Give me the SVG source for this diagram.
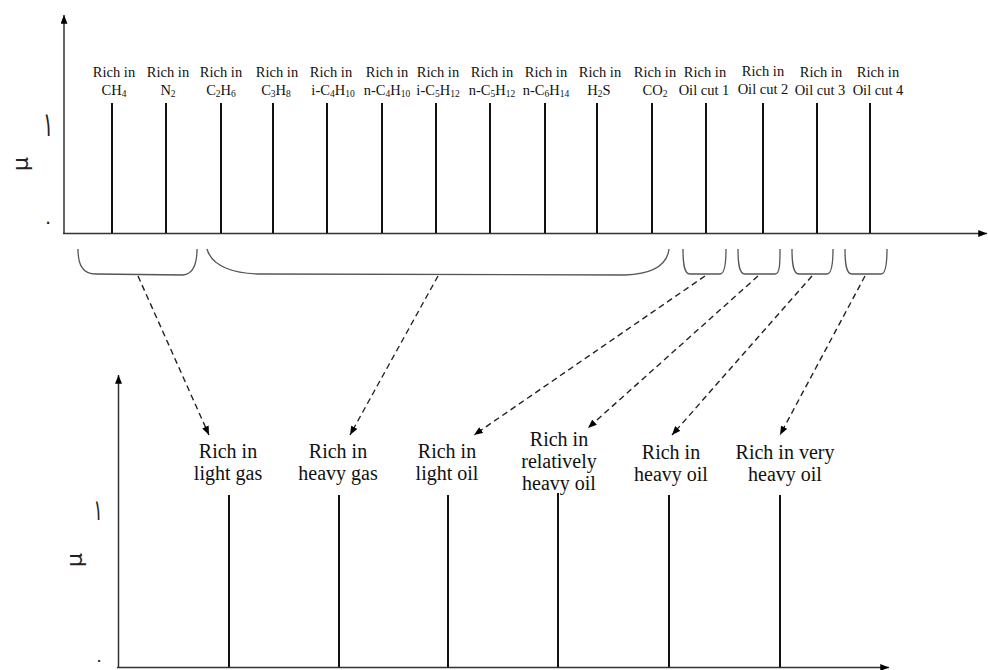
<svg xmlns="http://www.w3.org/2000/svg" width="988" height="670" viewBox="0 0 988 670">
<defs>
<marker id="ah" viewBox="0 0 10 8" refX="10" refY="4" markerWidth="9" markerHeight="7" markerUnits="userSpaceOnUse" orient="auto">
<path d="M0,0 L10,4 L0,8 z" fill="#000"/>
</marker>
<marker id="axh" viewBox="0 0 10 8" refX="10" refY="4" markerWidth="9" markerHeight="7" markerUnits="userSpaceOnUse" orient="auto">
<path d="M0,0 L10,4 L0,8 z" fill="#000"/>
</marker>
</defs>
<style>
.axis{stroke:#333;stroke-width:1.5;fill:none}
.bar{stroke:#111;stroke-width:2;fill:none}
.brace{stroke:#555;stroke-width:1.3;fill:none}
.dash{stroke:#222;stroke-width:1.4;fill:none;stroke-dasharray:6 4}
.t{font-family:"Liberation Serif","DejaVu Serif",serif;font-size:14.5px;fill:#111;text-anchor:middle}
.s{font-size:9.5px}
.b{font-family:"Liberation Serif","DejaVu Serif",serif;font-size:20px;fill:#111;text-anchor:middle}
.ar{font-family:"DejaVu Sans",sans-serif;fill:#222;text-anchor:middle}
</style>
<rect width="988" height="670" fill="#fff"/>

<g id="top-chart">
<g id="top-axes">
<line class="axis" x1="64" y1="233.5" x2="64" y2="15" marker-end="url(#axh)"/>
<line class="axis" x1="63" y1="233.5" x2="987" y2="233.5" marker-end="url(#axh)"/>
<text class="ar" x="0" y="0" font-size="19" transform="translate(48,136) scale(1,1.8)">١</text>
<text class="ar" x="48" y="228" font-size="19">٠</text>
<text class="ar" x="0" y="0" font-size="22" transform="translate(28,164) rotate(-90)">μ</text>
</g>
<g id="top-bars">
<line class="bar" x1="112" y1="103" x2="112" y2="233"/>
<line class="bar" x1="166" y1="103" x2="166" y2="233"/>
<line class="bar" x1="221" y1="103" x2="221" y2="233"/>
<line class="bar" x1="273" y1="103" x2="273" y2="233"/>
<line class="bar" x1="327" y1="103" x2="327" y2="233"/>
<line class="bar" x1="382" y1="103" x2="382" y2="233"/>
<line class="bar" x1="436" y1="103" x2="436" y2="233"/>
<line class="bar" x1="490" y1="103" x2="490" y2="233"/>
<line class="bar" x1="545" y1="103" x2="545" y2="233"/>
<line class="bar" x1="597" y1="103" x2="597" y2="233"/>
<line class="bar" x1="652" y1="103" x2="652" y2="233"/>
<line class="bar" x1="706" y1="103" x2="706" y2="233"/>
<line class="bar" x1="763" y1="103" x2="763" y2="233"/>
<line class="bar" x1="817" y1="103" x2="817" y2="233"/>
<line class="bar" x1="870" y1="103" x2="870" y2="233"/>
</g>
<g id="top-labels">
<g id="lbl-ch4"><text class="t" x="114" y="77">Rich in</text><text class="t" x="114" y="95">CH<tspan class="s" dy="2">4</tspan></text></g>
<g id="lbl-n2"><text class="t" x="168" y="77">Rich in</text><text class="t" x="168" y="95">N<tspan class="s" dy="2">2</tspan></text></g>
<g id="lbl-c2h6"><text class="t" x="221" y="77">Rich in</text><text class="t" x="221" y="95">C<tspan class="s" dy="2">2</tspan><tspan dy="-2">H</tspan><tspan class="s" dy="2">6</tspan></text></g>
<g id="lbl-c3h8"><text class="t" x="277" y="77">Rich in</text><text class="t" x="276" y="95">C<tspan class="s" dy="2">3</tspan><tspan dy="-2">H</tspan><tspan class="s" dy="2">8</tspan></text></g>
<g id="lbl-ic4h10"><text class="t" x="331" y="77">Rich in</text><text class="t" x="333" y="95">i-C<tspan class="s" dy="2">4</tspan><tspan dy="-2">H</tspan><tspan class="s" dy="2">10</tspan></text></g>
<g id="lbl-nc4h10"><text class="t" x="387" y="77">Rich in</text><text class="t" x="387" y="95">n-C<tspan class="s" dy="2">4</tspan><tspan dy="-2">H</tspan><tspan class="s" dy="2">10</tspan></text></g>
<g id="lbl-ic5h12"><text class="t" x="438" y="77">Rich in</text><text class="t" x="438" y="95">i-C<tspan class="s" dy="2">5</tspan><tspan dy="-2">H</tspan><tspan class="s" dy="2">12</tspan></text></g>
<g id="lbl-nc5h12"><text class="t" x="492" y="77">Rich in</text><text class="t" x="492" y="95">n-C<tspan class="s" dy="2">5</tspan><tspan dy="-2">H</tspan><tspan class="s" dy="2">12</tspan></text></g>
<g id="lbl-nc6h14"><text class="t" x="546" y="77">Rich in</text><text class="t" x="546" y="95">n-C<tspan class="s" dy="2">6</tspan><tspan dy="-2">H</tspan><tspan class="s" dy="2">14</tspan></text></g>
<g id="lbl-h2s"><text class="t" x="600" y="77">Rich in</text><text class="t" x="599" y="95">H<tspan class="s" dy="2">2</tspan><tspan dy="-2">S</tspan></text></g>
<g id="lbl-co2"><text class="t" x="655" y="77">Rich in</text><text class="t" x="655" y="95">CO<tspan class="s" dy="2">2</tspan></text></g>
<g id="lbl-oil1"><text class="t" x="705" y="77">Rich in</text><text class="t" x="704" y="95">Oil cut 1</text></g>
<g id="lbl-oil2"><text class="t" x="763" y="76">Rich in</text><text class="t" x="763" y="94">Oil cut 2</text></g>
<g id="lbl-oil3"><text class="t" x="821" y="77">Rich in</text><text class="t" x="820" y="95">Oil cut 3</text></g>
<g id="lbl-oil4"><text class="t" x="878" y="77">Rich in</text><text class="t" x="878" y="95">Oil cut 4</text></g>
</g>
</g>

<g id="braces">
<path id="brace-1" class="brace" d="M78,249 C78,264 82,274 96,274 L183,275 C193,274 197,264 197,249"/>
<path id="brace-2" class="brace" d="M207,249 C212,267 235,274 262,274 L625,275 C652,274 667,266 669,249"/>
<path id="brace-3" class="brace" d="M683,249 C683,263 684,274 690,274 L720,274 C725,274 726,263 726,249"/>
<path id="brace-4" class="brace" d="M738,249 C738,263 739,274 745,274 L775,274 C780,274 780,263 780,249"/>
<path id="brace-5" class="brace" d="M792,249 C792,263 793,274 799,274 L827,274 C832,274 833,263 833,249"/>
<path id="brace-6" class="brace" d="M845,249 C845,263 846,274 852,274 L881,274 C886,274 887,263 887,249"/>
</g>

<g id="connectors">
<line class="dash" x1="138" y1="276" x2="209" y2="435" marker-end="url(#ah)"/>
<line class="dash" x1="438" y1="276" x2="350" y2="435" marker-end="url(#ah)"/>
<line class="dash" x1="705" y1="276" x2="474" y2="435" marker-end="url(#ah)"/>
<line class="dash" x1="758" y1="276" x2="588" y2="428" marker-end="url(#ah)"/>
<line class="dash" x1="812" y1="276" x2="672" y2="435" marker-end="url(#ah)"/>
<line class="dash" x1="865" y1="276" x2="780" y2="435" marker-end="url(#ah)"/>
</g>

<g id="bottom-chart">
<g id="bottom-axes">
<line class="axis" x1="118.5" y1="668" x2="118.5" y2="375" marker-end="url(#axh)"/>
<line class="axis" x1="117" y1="667.5" x2="889" y2="667.5" marker-end="url(#axh)"/>
<text class="ar" x="0" y="0" font-size="17" transform="translate(98,520) scale(1,1.7)">١</text>
<text class="ar" x="99" y="666" font-size="17">٠</text>
<text class="ar" x="0" y="0" font-size="22" transform="translate(82,560) rotate(-90)">μ</text>
</g>
<g id="bottom-bars">
<line class="bar" x1="229" y1="495" x2="229" y2="667"/>
<line class="bar" x1="339" y1="495" x2="339" y2="667"/>
<line class="bar" x1="448" y1="495" x2="448" y2="667"/>
<line class="bar" x1="558" y1="493" x2="558" y2="667"/>
<line class="bar" x1="669" y1="495" x2="669" y2="667"/>
<line class="bar" x1="780" y1="495" x2="780" y2="667"/>
</g>
<g id="node-light-gas"><text class="b" x="228" y="458">Rich in</text><text class="b" x="228" y="480">light gas</text></g>
<g id="node-heavy-gas"><text class="b" x="338" y="458">Rich in</text><text class="b" x="338" y="480">heavy gas</text></g>
<g id="node-light-oil"><text class="b" x="447" y="458">Rich in</text><text class="b" x="447" y="480">light oil</text></g>
<g id="node-rel-heavy-oil"><text class="b" x="559" y="446">Rich in</text><text class="b" x="559" y="468">relatively</text><text class="b" x="559" y="490">heavy oil</text></g>
<g id="node-heavy-oil"><text class="b" x="671" y="459">Rich in</text><text class="b" x="671" y="481">heavy oil</text></g>
<g id="node-very-heavy-oil"><text class="b" x="785" y="459">Rich in very</text><text class="b" x="785" y="481">heavy oil</text></g>
</g>
</svg>
